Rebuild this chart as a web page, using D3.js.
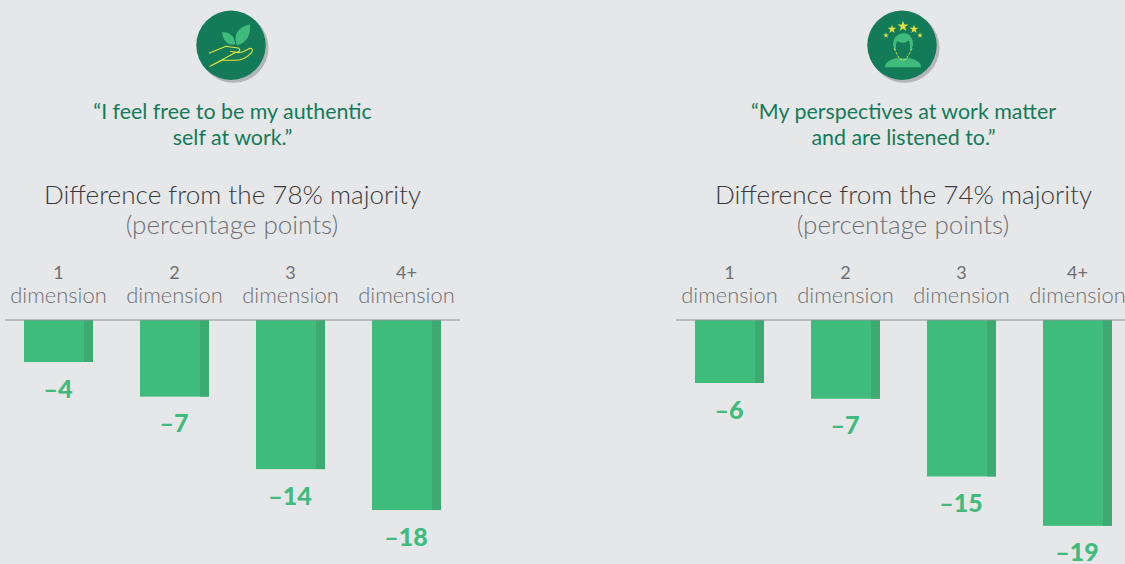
<!DOCTYPE html>
<html>
<head>
<meta charset="utf-8">
<script src="https://cdn.jsdelivr.net/npm/d3@7"></script>
<style>
  html, body { margin: 0; padding: 0; background: #e6e7e9; overflow: hidden; }
  svg { display: block; font-family: Lato, "Open Sans", sans-serif; }
</style>
</head>
<body>
<div id="chart"></div>
<script>
'use strict';

var categories = ['1', '2', '3', '4+'];
var categoryUnit = 'dimension';

// bar lengths, the printed labels are rounded
var leftValues = [-4, -7.3, -14.2, -18.1];
var rightValues = [-6, -7.5, -14.9, -19.6];
var leftLabels = ['–4', '–7', '–14', '–18'];
var rightLabels = ['–6', '–7', '–15', '–19'];

var leftQuote = ['“I feel free to be my authentic', 'self at work.”'];
var rightQuote = ['“My perspectives at work matter', 'and are listened to.”'];
var leftTitle = 'Difference from the 78% majority';
var rightTitle = 'Difference from the 74% majority';
var subTitle = '(percentage points)';

var width = 1125, height = 564;
var axisY = 320;
var darkGreen = '#147b58', barGreen = '#3fbc7c', stripGreen = '#3bab72', yellow = '#e3e23c';

var svg = d3.select('#chart').append('svg')
  .attr('width', width)
  .attr('height', height);

var xScale = d3.scaleBand()
  .domain(categories)
  .range([0.5, 464.5])
  .paddingInner(47 / 116)
  .paddingOuter(47 / 232);

var yScale = d3.scaleLinear()
  .domain([0, -20])
  .range([axisY, axisY + 210]);

function drawHandIcon(g) {
  // leaves
  g.append('path').attr('fill', barGreen)
    .attr('d', 'M4,-1 C-3,1 -8,-5 -9,-13 C-2,-14 4,-9 4,-1 Z');
  g.append('path').attr('fill', barGreen)
    .attr('d', 'M6,0 C2,-9 6,-18 19,-21 C20,-11 16,-2 6,0 Z');
  // hand outline
  g.append('path').attr('fill', 'none').attr('stroke', yellow).attr('stroke-width', 1.1)
    .attr('stroke-linejoin', 'round')
    .attr('d', 'M-22,8 L-5,1 C0,2 4,2 8,3 C10,5 8,7 5,7 L-1,6 M5,7 C8,8 11,7 13,6 L19,3 C22,3 22,6 20,8 C15,13 9,15 4,15 L-9,15 L-21,21 Z');
}

function drawPersonIcon(g) {
  // stars
  var star = d3.symbol().type(d3.symbolStar);
  [[-16, -10, 10], [-10, -16, 24], [1, -19, 36], [12, -16, 24], [18, -10, 10]].forEach(function(s) {
    g.append('path').attr('fill', yellow)
      .attr('transform', 'translate(' + s[0] + ',' + s[1] + ')')
      .attr('d', star.size(s[2])());
  });
  // shoulders
  g.append('path').attr('fill', barGreen)
    .attr('d', 'M-17,22 C-17,17 -13,15 -6,13 L8,13 C15,15 19,17 19,22 Z');
  // hair, then the face cut out of it
  g.append('path').attr('fill', barGreen)
    .attr('d', 'M-9,0 C-9,-8 -4,-12 2,-12 C8,-12 11,-7 11,0 L9,5 L-7,5 Z');
  g.append('path').attr('fill', darkGreen)
    .attr('d', 'M-6,4 C-6,0 -6,-3 -5,-4 C-1,-2 4,-2 7,-5 C8,-3 8,0 8,4 C8,9 5,13 1,13 C-3,13 -6,9 -6,4 Z');
  g.append('path').attr('fill', 'none').attr('stroke', yellow).attr('stroke-width', 0.9).attr('stroke-dasharray', '3 1')
    .attr('d', 'M-8,3 C-6,7 -4,11 -2,14 C0,15 2,15 4,14 C6,11 8,7 10,3');
}

function drawPanel(offset, iconFn, quote, title, values, labels) {
  var panel = svg.append('g').attr('transform', 'translate(' + offset + ',0)');
  var cx = 232;

  // icon badge
  var icon = panel.append('g').attr('transform', 'translate(231,45.3)');
  icon.append('circle').attr('cx', 2.5).attr('cy', 2.5).attr('r', 35).attr('fill', '#b4b5b7');
  icon.append('circle').attr('r', 34.7).attr('fill', darkGreen);
  iconFn(icon);

  // quote
  panel.selectAll('text.quote').data(quote).enter().append('text')
    .attr('class', 'quote')
    .attr('x', cx + 0.5)
    .attr('y', function(d, i) { return 119 + i * 26; })
    .attr('text-anchor', 'middle')
    .attr('font-size', 21.4)
    .attr('fill', darkGreen)
    .text(function(d) { return d; });

  // title
  panel.append('text').attr('x', cx + 0.5).attr('y', 204)
    .attr('text-anchor', 'middle').attr('font-size', 26.1).attr('font-weight', 300)
    .attr('fill', '#3a3a3a').text(title);
  panel.append('text').attr('x', cx).attr('y', 234)
    .attr('text-anchor', 'middle').attr('font-size', 26).attr('font-weight', 300)
    .attr('fill', '#6e6f71').text(subTitle);

  // category labels
  var cats = panel.selectAll('g.cat').data(categories).enter().append('g')
    .attr('class', 'cat')
    .attr('transform', function(d) { return 'translate(' + (xScale(d) + xScale.bandwidth() / 2) + ',0)'; });
  cats.append('text').attr('y', 279).attr('text-anchor', 'middle')
    .attr('font-size', 18).attr('fill', '#6e6f71')
    .text(function(d) { return d; });
  cats.append('text').attr('y', 303).attr('text-anchor', 'middle')
    .attr('font-size', 21.9).attr('font-weight', 300).attr('fill', '#6e6f71')
    .text(categoryUnit);

  // bars
  var bars = panel.selectAll('g.bar').data(values).enter().append('g').attr('class', 'bar');
  bars.append('rect')
    .attr('x', function(d, i) { return xScale(categories[i]); })
    .attr('y', yScale(0))
    .attr('width', xScale.bandwidth())
    .attr('height', function(d) { return yScale(d) - yScale(0); })
    .attr('fill', barGreen);
  bars.append('rect')
    .attr('x', function(d, i) { return xScale(categories[i]) + xScale.bandwidth() - 9; })
    .attr('y', yScale(0))
    .attr('width', 9)
    .attr('height', function(d) { return yScale(d) - yScale(0); })
    .attr('fill', stripGreen);
  bars.append('text')
    .attr('x', function(d, i) { return xScale(categories[i]) + xScale.bandwidth() / 2 - 0.5; })
    .attr('y', function(d) { return yScale(d) + 35.5; })
    .attr('text-anchor', 'middle')
    .attr('font-size', 25).attr('font-weight', 900)
    .attr('fill', barGreen)
    .text(function(d, i) { return labels[i]; });

  // baseline
  panel.append('line')
    .attr('x1', 5).attr('x2', 460)
    .attr('y1', yScale(0)).attr('y2', yScale(0))
    .attr('stroke', '#8d8e90').attr('stroke-width', 1);
}

drawPanel(0, drawHandIcon, leftQuote, leftTitle, leftValues, leftLabels);
drawPanel(671, drawPersonIcon, rightQuote, rightTitle, rightValues, rightLabels);
</script>
</body>
</html>
